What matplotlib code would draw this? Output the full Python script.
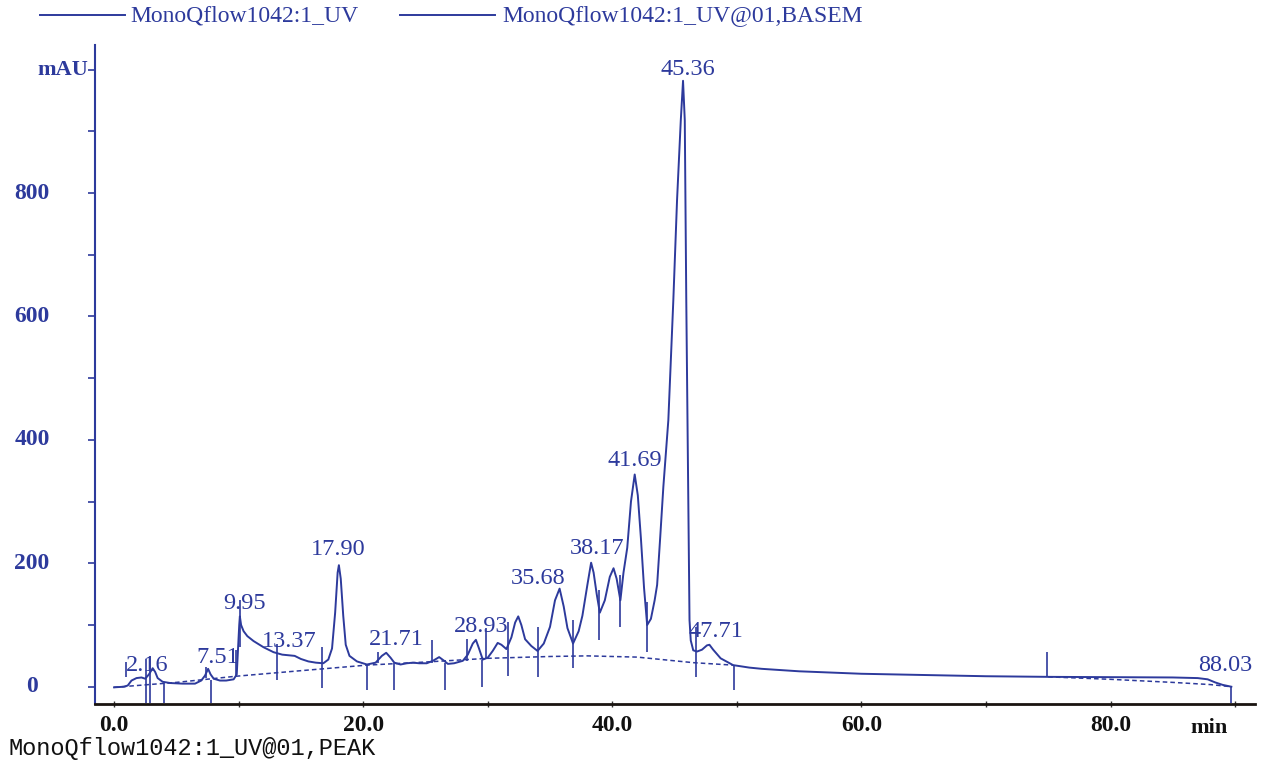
import matplotlib
matplotlib.use("Agg")
import matplotlib.pyplot as plt
from matplotlib.lines import Line2D

# UV trace (min, mAU)
time_min = [0.0, 0.8, 1.1, 1.4, 1.8, 2.2, 2.5, 2.8, 3.1, 3.3, 3.5, 3.9, 4.5, 5.5, 6.5,
            7.0, 7.3, 7.55, 7.75, 8.0, 8.5, 9.0, 9.6, 9.85, 9.95, 10.05, 10.1, 10.2,
            10.4, 10.7, 11.2, 12.0, 12.8, 13.5, 14.0, 14.5, 15.0, 15.6, 16.2, 16.8,
            17.2, 17.5, 17.75, 17.95, 18.05, 18.2, 18.4, 18.6, 18.9, 19.5, 20.3, 21.0,
            21.5, 21.85, 22.2, 22.5, 23.0, 23.5, 24.0, 24.5, 25.1, 25.6, 26.1, 26.5,
            26.8, 27.3, 28.0, 28.4, 28.8, 29.05, 29.3, 29.6, 30.0, 30.4, 30.8, 31.1,
            31.5, 31.9, 32.2, 32.45, 32.7, 33.0, 33.5, 34.0, 34.5, 35.0, 35.4, 35.77,
            36.1, 36.4, 36.85, 37.3, 37.6, 38.0, 38.3, 38.5, 38.75, 39.0, 39.4, 39.8,
            40.1, 40.35, 40.65, 40.9, 41.2, 41.5, 41.8, 42.05, 42.3, 42.55, 42.8, 43.1,
            43.4, 43.6, 43.85, 44.1, 44.5, 44.9, 45.2, 45.5, 45.68, 45.82, 45.94, 46.1,
            46.2, 46.3, 46.5, 46.8, 47.2, 47.6, 47.8, 48.1, 48.7, 49.7, 51.0, 52.0,
            55.0, 60.0, 65.0, 70.0, 75.0, 80.0, 85.0, 87.0, 87.8, 88.4, 89.0, 89.7]
uv_mau = [-1, 0, 2, 10, 14, 15, 13, 20, 30, 24, 14, 8, 6, 5, 5,
          10, 18, 29, 20, 13, 10, 10, 12, 20, 60, 100, 114, 100,
          90, 82, 74, 64, 56, 52, 51, 50, 45, 41, 39, 38,
          44, 62, 120, 185, 197, 175, 115, 68, 50, 41, 36, 39,
          50, 55, 47, 39, 36, 38, 39, 38, 38, 42, 48, 42,
          37, 38, 42, 52, 70, 76, 62, 44, 47, 58, 71, 68,
          61, 80, 104, 114, 100, 77, 66, 58, 70, 97, 140, 159,
          130, 95, 70, 90, 115, 165, 201, 185, 150, 120, 140, 178,
          192, 175, 140, 185, 225, 300, 344, 310, 240, 160, 100, 110,
          140, 165, 243, 324, 432, 626, 789, 918, 982, 918, 627, 303,
          108, 75, 59, 57, 60, 67, 68, 60, 46, 35, 31, 29,
          25, 21, 19, 17, 16, 15.5, 15, 14, 12, 7, 3, 0]

# dashed baselines
base1_t = [0.0, 5.0, 9.8, 15.0, 20.3, 25.0, 30.0, 35.0, 38.0, 42.0, 46.5, 49.7]
base1_v = [-1, 7, 17, 26, 35, 40, 46, 49, 50, 48, 39, 35]
base2_t = [75.0, 80.0, 85.0, 88.0, 89.7]
base2_v = [16, 12, 7, 3.5, 0]

# peak marks: time, low, high
mark_t = [0.95, 2.55, 2.9, 4.0, 7.4, 7.8, 9.75, 10.1, 13.1, 16.7, 20.3, 21.2, 22.5,
          25.5, 26.6, 28.3, 29.55, 29.9, 31.6, 34.0, 36.85, 38.95, 40.65, 42.8,
          46.7, 49.8, 74.9, 89.7]
mark_lo = [16, -27, -27, -27, 14, -27, 18, 65, 11, -2, -5, 38, -5,
           38, -5, 42, 0, 45, 18, 16, 30, 76, 97, 57,
           16, -5, 16, -27]
mark_hi = [40, 45, 50, 6, 32, 11, 60, 140, 70, 65, 35, 57, 38,
           75, 38, 78, 44, 95, 105, 97, 108, 157, 181, 138,
           97, 35, 57, 0]

# peak labels
peak_names = ["2.16", "7.51", "9.95", "13.37", "17.90", "21.71", "28.93", "35.68",
              "38.17", "41.69", "45.36", "47.71", "88.03"]
peak_x = [2.65, 8.35, 10.5, 14.1, 18.0, 22.65, 29.5, 34.05, 38.8, 41.8, 46.1, 48.35, 89.2]
peak_y = [35, 48, 135, 74, 223, 76, 97, 176, 224, 367, 1001, 89, 34]

y_ticks = [0, 200, 400, 600, 800]
x_ticks = [0, 20, 40, 60, 80]

blue = "#2d3a9c"
serif = "Liberation Serif"

fig = plt.figure(figsize=(12.62, 7.65), dpi=100)
ax = fig.add_axes([95 / 1262, 1 - 704 / 765, 1160 / 1262, 659 / 765])

ax.plot(time_min, uv_mau, color=blue, lw=1.4)
ax.plot(base1_t, base1_v, color=blue, lw=1.1, ls=(0, (3, 2)))
ax.plot(base2_t, base2_v, color=blue, lw=1.1, ls=(0, (3, 2)))
ax.vlines(mark_t, mark_lo, mark_hi, color=blue, lw=1.2)

for name, x, y in zip(peak_names, peak_x, peak_y):
    ax.text(x, y, name, color=blue, fontsize=17.5, family=serif, ha="center", va="center")

ax.set_xlim(-1.53, 91.6)
ax.set_ylim(-28, 1040)

for s in ["top", "right"]:
    ax.spines[s].set_visible(False)
ax.spines["left"].set_color(blue)
ax.spines["left"].set_linewidth(1.5)
ax.spines["bottom"].set_color("#1a1410")
ax.spines["bottom"].set_linewidth(2)

ax.set_yticks(range(0, 1001, 100))
ax.set_yticklabels([])
ax.tick_params(axis="y", direction="out", length=5, color=blue, width=1.2)
ax.set_xticks(range(0, 91, 10))
ax.set_xticklabels([])
ax.tick_params(axis="x", direction="inout", length=4, color="#333333", width=1)

ytr = ax.get_yaxis_transform()
for v in y_ticks:
    ax.text(-0.0543, v, str(v), transform=ytr, color=blue, fontsize=17,
            fontweight="bold", family=serif, ha="center", va="center")
ax.text(-0.0276, 1000, "mAU", transform=ytr, color=blue, fontsize=16,
        fontweight="bold", family=serif, ha="center", va="center")

xtr = ax.get_xaxis_transform()
for v in x_ticks:
    ax.text(v, -0.032, f"{v:.1f}", transform=xtr, color="#111111", fontsize=17,
            fontweight="bold", family=serif, ha="center", va="center")
ax.text(87.9, -0.036, "min", transform=xtr, color="#111111", fontsize=16,
        fontweight="bold", family=serif, ha="center", va="center")

# legend across the top
fig.add_artist(Line2D([40 / 1262, 125 / 1262], [1 - 15 / 765] * 2, color=blue, lw=1.4))
fig.text(130 / 1262, 1 - 16 / 765, "MonoQflow1042:1_UV", color=blue, fontsize=17,
         family=serif, va="center")
fig.add_artist(Line2D([400 / 1262, 495 / 1262], [1 - 15 / 765] * 2, color=blue, lw=1.4))
fig.text(502 / 1262, 1 - 16 / 765, "MonoQflow1042:1_UV@01,BASEM", color=blue, fontsize=17,
         family=serif, va="center")

fig.text(8 / 1262, 1 - 748 / 765, "MonoQflow1042:1_UV@01,PEAK", color="#111111",
         fontsize=17, family="Liberation Mono", va="center")

fig.savefig("out.png", dpi=100)
